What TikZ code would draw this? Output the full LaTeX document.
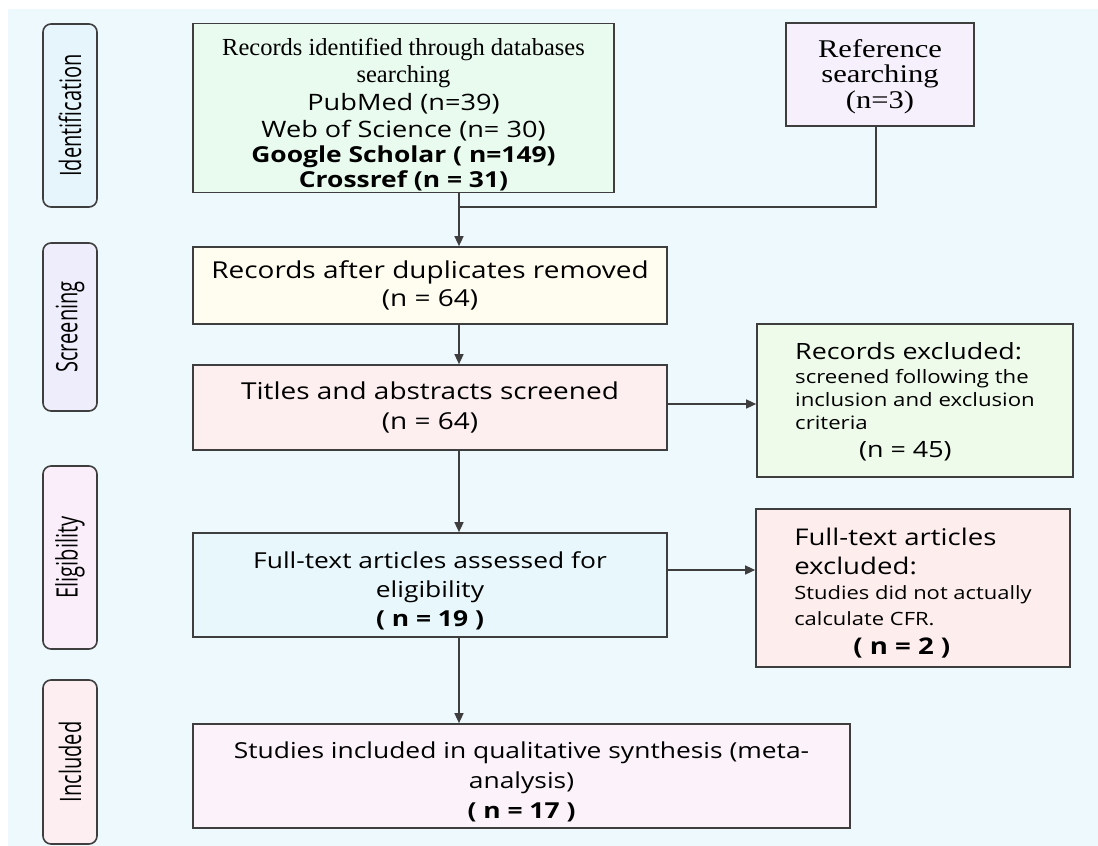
\documentclass[tikz,border=0pt]{standalone}
\usepackage{fontspec}
\setmainfont{Liberation Serif}
\newfontfamily\serw{Liberation Serif}[FakeStretch=1.2]
\newfontfamily\os{Open Sans}[FakeStretch=1.2]
\newfontfamily\osc{Open Sans}[FakeStretch=0.68]
\usetikzlibrary{arrows.meta,calc}
\definecolor{bgblue}{HTML}{EEF9FD}
\definecolor{linegray}{HTML}{3E3E3E}
\definecolor{fgreen}{HTML}{E9FBEE}
\definecolor{flav}{HTML}{F6F0FC}
\definecolor{fyellow}{HTML}{FFFDEF}
\definecolor{fpink}{HTML}{FDEFF0}
\definecolor{fgreen2}{HTML}{EEFBEA}
\definecolor{fblue}{HTML}{E8F7FB}
\definecolor{fpink2}{HTML}{FDEDEC}
\definecolor{fmauve}{HTML}{FCF2FA}
\definecolor{sblue}{HTML}{E6F5FC}
\definecolor{slav}{HTML}{EEEDFB}
\definecolor{spink}{HTML}{F9EEF9}
\definecolor{srose}{HTML}{FCEEF1}
\begin{document}
\begin{tikzpicture}[x=1pt,y=-1pt,
  box/.style={draw=linegray, line width=1.7pt, inner sep=0pt, align=center},
  side/.style={draw=linegray, line width=1.6pt, rounded corners=8pt, minimum height=54pt, inner sep=0pt, rotate=90, font=\osc\fontsize{29.5}{30}\selectfont},
  arr/.style={-{Triangle[length=10pt,width=9pt]}, line width=1.5pt, draw=linegray},
  ln/.style={line width=1.5pt, draw=linegray}]
\useasboundingbox (0,0) rectangle (1098,846);
\fill[white] (0,0) rectangle (1098,846);
\fill[bgblue] (8,9) rectangle (1098,846);

% side labels
\node[side, fill=sblue, minimum width=183pt] (sid) at (70,115.5) {Identification};
\node[side, fill=slav, minimum width=168pt] (ssc) at (70,327) {Screening};
\node[side, fill=spink, minimum width=183pt] (sel) at (70,557.5) {Eligibility};
\node[side, fill=srose, minimum width=164pt] (sin) at (70,762) {Included};

% boxes
\node[box, fill=fgreen, minimum width=421pt, minimum height=169pt, font=\fontsize{24.5}{26.5}\selectfont] (b1) at (403.5,108)
  {\rule{0pt}{30pt}Records identified through databases\\ searching\\[2pt]
   {\os\fontsize{22.6}{27}\selectfont PubMed (n=39)}\\ {\os\fontsize{22.6}{27}\selectfont Web of Science (n= 30)}\\[-1pt]
   {\os\bfseries\fontsize{22}{27}\selectfont Google Scholar ( n=149)}\\[-2pt] {\os\bfseries\fontsize{22}{27}\selectfont Crossref (n = 31)}};
\node[box, fill=flav, minimum width=188pt, minimum height=103pt, font=\serw\fontsize{25.5}{25.5}\selectfont] (ref) at (880,74.5)
  {\rule{0pt}{22pt}Reference\\ searching\\ (n=3)};
\node[box, fill=fyellow, minimum width=474pt, minimum height=77pt, font=\os\fontsize{23.3}{28}\selectfont] (b3) at (430,285.5)
  {Records after duplicates removed\\ (n = 64)};
\node[box, fill=fpink, minimum width=474pt, minimum height=85pt, font=\os\fontsize{23.3}{30}\selectfont] (b4) at (430,407.5)
  {Titles and abstracts screened\\ (n = 64)};
\node[box, fill=fgreen2, minimum width=316pt, minimum height=153pt, align=left, font=\os\fontsize{22.4}{28}\selectfont] (e1) at (915,400.5)
  {\rule{0pt}{20pt}Records excluded:\\[-4pt]
   {\fontsize{18.5}{23}\selectfont screened following the}\\[-5pt]
   {\fontsize{18.5}{23}\selectfont inclusion and exclusion}\\[-5pt]
   {\fontsize{18.5}{23}\selectfont criteria}\\
   \hspace*{64pt}(n = 45)};
\node[box, fill=fblue, minimum width=474pt, minimum height=104pt, font=\os\fontsize{22}{29}\selectfont] (b5) at (430,585)
  {\rule{0pt}{29pt}Full-text articles assessed for\\ eligibility\\ {\bfseries ( n = 19 )}};
\node[box, fill=fpink2, minimum width=314pt, minimum height=158pt, align=left, font=\os\fontsize{23}{29}\selectfont] (e2) at (913,588)
  {\rule{0pt}{28pt}Full-text articles\\ excluded:\\[-4pt]
   {\fontsize{18.3}{24}\selectfont Studies did not actually}\\[-3pt]
   {\fontsize{18.3}{24}\selectfont calculate CFR.}\\
   \hspace*{59pt}{\bfseries ( n = 2 )}};
\node[box, fill=fmauve, minimum width=657pt, minimum height=104pt, font=\os\fontsize{22}{30}\selectfont] (b6) at (521.5,776)
  {\rule{0pt}{29pt}Studies included in qualitative synthesis (meta-\\ analysis)\\ {\bfseries ( n = 17 )}};

% connectors
\coordinate (sp) at (459,0);
\coordinate (jn) at (459,207);
\draw[ln] ($(ref.south)+(-4,0)$) |- (jn);
\draw[arr] (b1.south -| sp) -- (b3.north -| sp);
\draw[arr] (b3.south -| sp) -- (b4.north -| sp);
\draw[arr] (b4.south -| sp) -- (b5.north -| sp);
\draw[arr] (b5.south -| sp) -- (b6.north -| sp);
\coordinate (ta) at ($(b4.east)+(0,-3.5)$);
\draw[arr] (ta) -- (e1.west |- ta);
\coordinate (fa) at ($(b5.east)+(0,-15)$);
\draw[arr] (fa) -- (e2.west |- fa);
\end{tikzpicture}
\end{document}
